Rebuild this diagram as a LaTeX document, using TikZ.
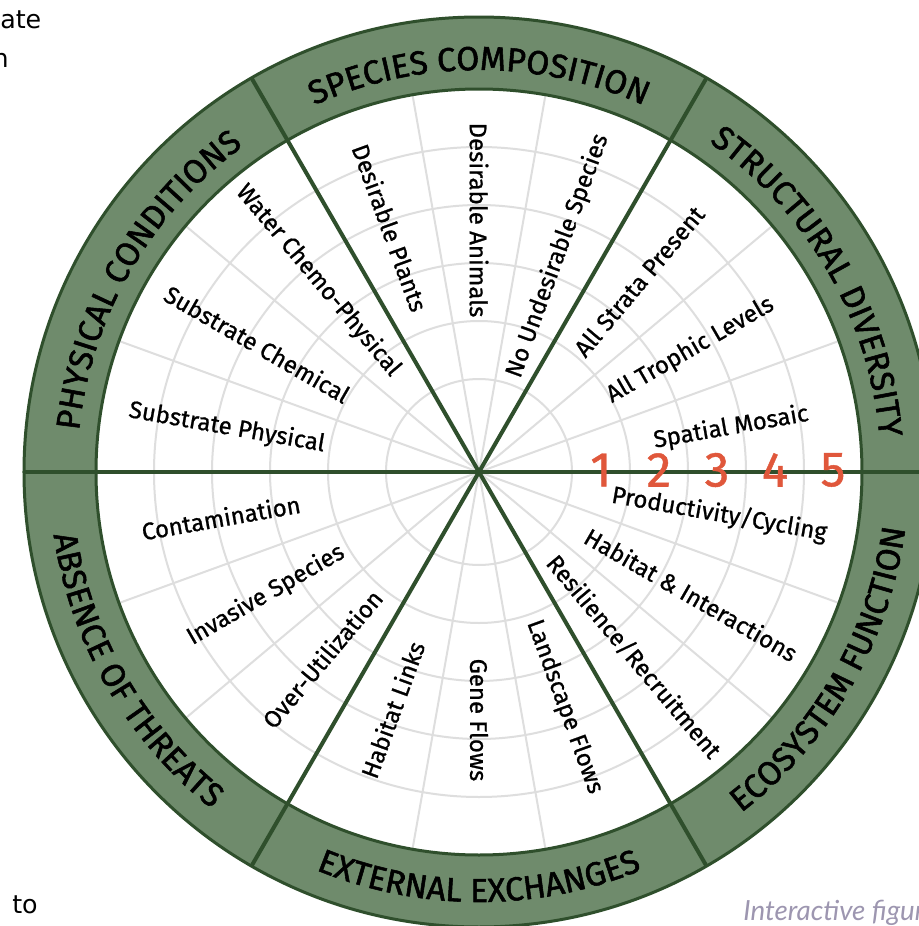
\documentclass[tikz,border=0pt]{standalone}
\usepackage{fontspec}
\setmainfont{Fira Sans}
\newfontfamily\labelfont{Fira Sans}[FakeBold=0.9]
\newfontfamily\titlefont{Fira Sans}[FakeBold=1.6]
\newfontfamily\pagefont{DejaVu Sans}
\newfontfamily\notefont{Lato}
\usepackage{xcolor}
\usetikzlibrary{decorations.text}

\definecolor{ringgreen}{HTML}{6F8B6C}
\definecolor{darkgreen}{HTML}{2F4F2C}
\definecolor{gridgray}{HTML}{DEDEDE}
\definecolor{scoreorange}{HTML}{E0573B}
\definecolor{notegray}{HTML}{9D96B0}

\begin{document}
\begin{tikzpicture}[x=0.75pt, y=0.75pt,
    indicator/.style={font=\labelfont\fontsize{18}{18}\selectfont, text=black, inner sep=0pt},
    score/.style={font=\labelfont\fontsize{37}{37}\selectfont, text=scoreorange, inner sep=0pt},
    pagetext/.style={font=\pagefont\fontsize{19}{19}\selectfont, inner sep=0pt, anchor=base west},
    ringtitle/.style={decorate, decoration={text along path, text align=center,
        text={|\titlefont\fontsize{25}{25}\selectfont|#1}}}]

  % Frame
  \useasboundingbox (-479,-454) rectangle (440,472);
  \fill[white] (-479,-454) rectangle (440,472);
  \clip (-479,-454) rectangle (440,472);
  \coordinate (hub) at (0,0);

  % Score circles and indicator spokes
  \foreach \r in {93,151,209,267,325}
    \draw[gridgray, line width=1.5pt] (hub) circle (\r);
  \foreach \a in {20,40,80,100,140,160,200,220,260,280,320,340}
    \draw[gridgray, line width=1.5pt] (hub) -- (\a:383);

  % Outer ring
  \fill[ringgreen, even odd rule] (hub) circle (455) (hub) circle (383);
  \draw[darkgreen, line width=2.25pt] (hub) circle (455) (hub) circle (383);

  % Sector dividers
  \foreach \a in {0,60,...,300}
    \draw[darkgreen, line width=3pt] (hub) -- (\a:455);

  % Indicators
  \foreach \a/\r/\t [count=\i] in {10/256/{Spatial Mosaic}, 30/244/{All Trophic Levels},
      50/249/{All Strata Present}, 70/230/{No Undesirable Species},
      90/252/{Desirable Animals}, 110/260/{Desirable Plants},
      130/250/{Water Chemo-Physical}, 150/256/{Substrate Chemical},
      170/256/{Substrate Physical}, 190/262/{Contamination},
      210/246/{Invasive Species}, 230/244/{Over-Utilization},
      250/253/{Habitat Links}, 270/248/{Gene Flows},
      290/250/{Landscape Flows}, 310/241/{Resilience/Recruitment},
      330/245/{Habitat \& Interactions}, 350/244/{Productivity/Cycling}}{
    \pgfmathsetmacro\rot{(\a>=90 && \a<270) ? \a-180 : \a}
    \node[indicator, rotate=\rot] (ind\i) at (\a:\r) {\t};
  }

  % Scores
  \foreach \n/\x in {1/122,2/180,3/238,4/296,5/354}
    \node[score] (score\n) at (\x,2) {\n};

  % Ring titles
  \path[ringtitle=STRUCTURAL DIVERSITY] (60:402) arc[start angle=60, end angle=0, radius=402];
  \path[ringtitle=SPECIES COMPOSITION] (120:402) arc[start angle=120, end angle=60, radius=402];
  \path[ringtitle=PHYSICAL CONDITIONS] (180:402) arc[start angle=180, end angle=120, radius=402];
  \path[ringtitle=ABSENCE OF THREATS] (180:430) arc[start angle=180, end angle=240, radius=430];
  \path[ringtitle=EXTERNAL EXCHANGES] (240:430) arc[start angle=240, end angle=300, radius=430];
  \path[ringtitle=ECOSYSTEM FUNCTION] (300:430) arc[start angle=300, end angle=360, radius=430];

  % Page text around the figure
  \node[pagetext] (ate) at (-479,444) {ate};
  \node[pagetext, anchor=base east] (n) at (-470,405) {n};
  \node[pagetext] (to) at (-467,-441) {to};
  \node[font=\notefont\itshape\fontsize{20.8}{20.8}\selectfont, text=notegray,
    anchor=base west, inner sep=0pt] (note) at (264,-448) {Interactive figur};
\end{tikzpicture}
\end{document}
